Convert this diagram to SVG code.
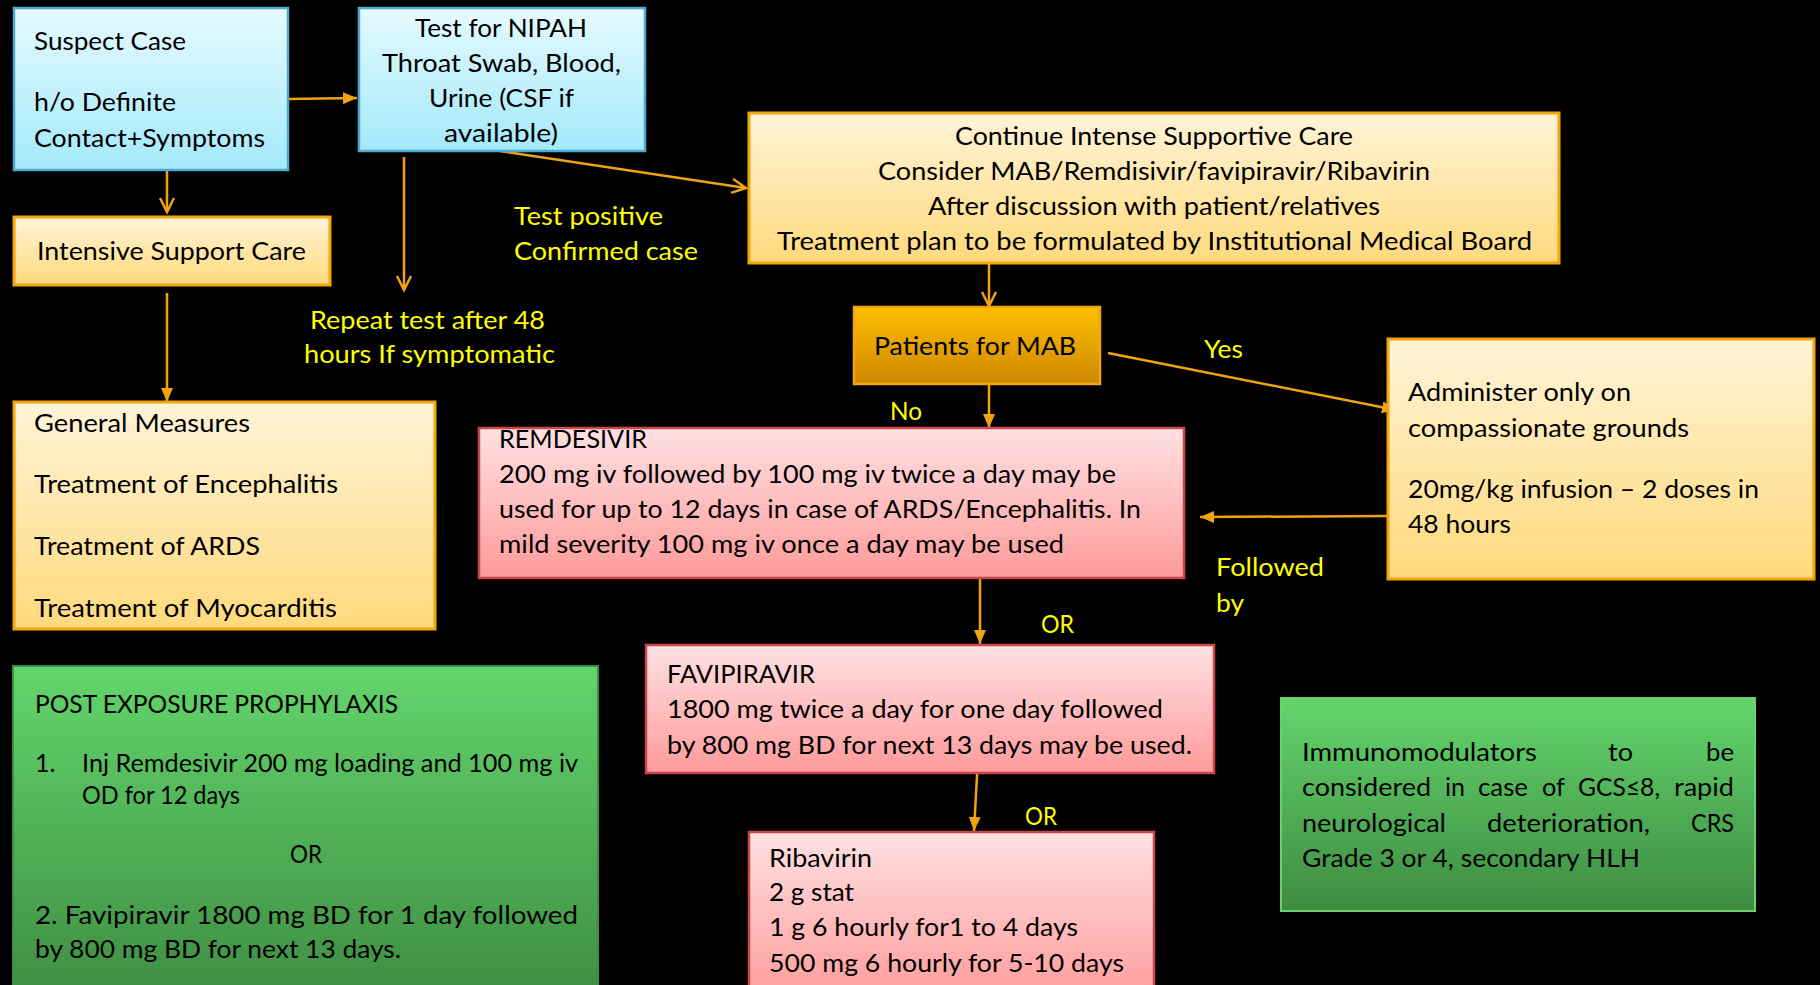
<svg xmlns="http://www.w3.org/2000/svg" width="1820" height="985" viewBox="0 0 1820 985">
<style>
text{font-family:Lato,"Liberation Sans",sans-serif;font-size:25px;fill:#000}
.y{fill:#ffff00}
.c{text-anchor:middle}
.e{text-anchor:end}
.con{stroke:#efa40e;stroke-width:2.5;fill:none}
.blue{fill:url(#gB);stroke:#4fa9cc;stroke-width:2.5}
.yel{fill:url(#gY);stroke:#f2a60c;stroke-width:3}
.mab{fill:url(#gM);stroke:#f2a60c;stroke-width:2.5}
.red{fill:url(#gR);stroke:#c9474a;stroke-width:2.5}
.grn{fill:url(#gG);stroke:#3f8f43;stroke-width:2}
.grn2{fill:url(#gG);stroke:#6ccf70;stroke-width:2}
</style>
<defs>
<linearGradient id="gB" x1="0" y1="0" x2="0" y2="1"><stop offset="0" stop-color="#e6faff"/><stop offset="1" stop-color="#a3e9fb"/></linearGradient>
<linearGradient id="gY" x1="0" y1="0" x2="0" y2="1"><stop offset="0" stop-color="#fff4d8"/><stop offset="1" stop-color="#ffd97c"/></linearGradient>
<linearGradient id="gM" x1="0" y1="0" x2="0" y2="1"><stop offset="0" stop-color="#ffc000"/><stop offset="1" stop-color="#cc8600"/></linearGradient>
<linearGradient id="gR" x1="0" y1="0" x2="0" y2="1"><stop offset="0" stop-color="#ffe1e2"/><stop offset="1" stop-color="#ff9a9a"/></linearGradient>
<linearGradient id="gG" x1="0" y1="0" x2="0" y2="1"><stop offset="0" stop-color="#63d56b"/><stop offset="1" stop-color="#3e8b42"/></linearGradient>
<marker id="af" markerUnits="userSpaceOnUse" markerWidth="16" markerHeight="14" refX="14" refY="6" orient="auto"><path d="M0,0 L14,6 L0,12 z" fill="#efa40e"/></marker>
<marker id="ao" markerUnits="userSpaceOnUse" markerWidth="18" markerHeight="18" refX="15" refY="8" orient="auto"><path d="M1,1 L15,8 L1,15" fill="none" stroke="#efa40e" stroke-width="2.5"/></marker>
</defs>
<rect width="1820" height="985" fill="#000"/>

<g id="connectors">
<line class="con" x1="288" y1="99" x2="357" y2="98" marker-end="url(#af)"/>
<line class="con" x1="167" y1="170" x2="167" y2="212" marker-end="url(#ao)"/>
<line class="con" x1="404" y1="157" x2="404" y2="290" marker-end="url(#ao)"/>
<line class="con" x1="500" y1="151" x2="746" y2="188" marker-end="url(#ao)"/>
<line class="con" x1="989" y1="263" x2="989" y2="306" marker-end="url(#ao)"/>
<line class="con" x1="167" y1="293" x2="167" y2="402" marker-end="url(#af)"/>
<line class="con" x1="1108" y1="353" x2="1396" y2="410" marker-end="url(#af)"/>
<line class="con" x1="989" y1="384" x2="989" y2="428" marker-end="url(#af)"/>
<line class="con" x1="1388" y1="516" x2="1200" y2="517" marker-end="url(#af)"/>
<line class="con" x1="980" y1="575" x2="980" y2="644" marker-end="url(#af)"/>
<line class="con" x1="978" y1="757" x2="974" y2="831" marker-end="url(#af)"/>
</g>

<g id="labels">
<text class="y" x="514" y="225" textLength="149" lengthAdjust="spacingAndGlyphs">Test positive</text>
<text class="y" x="514" y="260" textLength="184" lengthAdjust="spacingAndGlyphs">Confirmed case</text>
<text class="y" x="310" y="329" textLength="235" lengthAdjust="spacingAndGlyphs">Repeat test after 48</text>
<text class="y" x="304" y="363" textLength="251" lengthAdjust="spacingAndGlyphs">hours If symptomatic</text>
<text class="y" x="1204" y="358" textLength="39" lengthAdjust="spacingAndGlyphs">Yes</text>
<text class="y" x="890" y="420" textLength="32" lengthAdjust="spacingAndGlyphs">No</text>
<text class="y" x="1216" y="576" textLength="108" lengthAdjust="spacingAndGlyphs">Followed</text>
<text class="y" x="1216" y="612" textLength="28" lengthAdjust="spacingAndGlyphs">by</text>
<text class="y" x="1041" y="633" textLength="33" lengthAdjust="spacingAndGlyphs">OR</text>
<text class="y" x="1025" y="825" textLength="32" lengthAdjust="spacingAndGlyphs">OR</text>
</g>

<g id="suspect">
<rect class="blue" x="14" y="8" width="274" height="162"/>
<text x="34" y="50" textLength="152" lengthAdjust="spacingAndGlyphs">Suspect Case</text>
<text x="34" y="111" textLength="142" lengthAdjust="spacingAndGlyphs">h/o Definite</text>
<text x="34" y="147" textLength="231" lengthAdjust="spacingAndGlyphs">Contact+Symptoms</text>
</g>

<g id="test">
<rect class="blue" x="359" y="8" width="286" height="143"/>
<text x="415" y="37" textLength="172" lengthAdjust="spacingAndGlyphs">Test for NIPAH</text>
<text x="382" y="72" textLength="239" lengthAdjust="spacingAndGlyphs">Throat Swab, Blood,</text>
<text x="429" y="107" textLength="145" lengthAdjust="spacingAndGlyphs">Urine (CSF if</text>
<text x="444" y="142" textLength="114" lengthAdjust="spacingAndGlyphs">available)</text>
</g>

<g id="intensive">
<rect class="yel" x="14" y="217" width="316" height="68"/>
<text x="37" y="260" textLength="269" lengthAdjust="spacingAndGlyphs">Intensive Support Care</text>
</g>

<g id="continue">
<rect class="yel" x="749" y="113" width="810" height="150"/>
<text x="955" y="145" textLength="398" lengthAdjust="spacingAndGlyphs">Continue Intense Supportive Care</text>
<text x="878" y="180" textLength="552" lengthAdjust="spacingAndGlyphs">Consider MAB/Remdisivir/favipiravir/Ribavirin</text>
<text x="928" y="215" textLength="452" lengthAdjust="spacingAndGlyphs">After discussion with patient/relatives</text>
<text x="777" y="250" textLength="755" lengthAdjust="spacingAndGlyphs">Treatment plan to be formulated by Institutional Medical Board</text>
</g>

<g id="mab">
<rect class="mab" x="854" y="307" width="246" height="77"/>
<text x="874" y="355" textLength="202" lengthAdjust="spacingAndGlyphs">Patients for MAB</text>
</g>

<g id="administer">
<rect class="yel" x="1388" y="339" width="426" height="240"/>
<text x="1408" y="401" textLength="223" lengthAdjust="spacingAndGlyphs">Administer only on</text>
<text x="1408" y="437" textLength="281" lengthAdjust="spacingAndGlyphs">compassionate grounds</text>
<text x="1408" y="498" textLength="351" lengthAdjust="spacingAndGlyphs">20mg/kg infusion – 2 doses in</text>
<text x="1408" y="533" textLength="103" lengthAdjust="spacingAndGlyphs">48 hours</text>
</g>

<g id="general">
<rect class="yel" x="14" y="402" width="421" height="227"/>
<text x="34" y="432" textLength="216" lengthAdjust="spacingAndGlyphs">General Measures</text>
<text x="34" y="493" textLength="304" lengthAdjust="spacingAndGlyphs">Treatment of Encephalitis</text>
<text x="34" y="555" textLength="226" lengthAdjust="spacingAndGlyphs">Treatment of ARDS</text>
<text x="34" y="617" textLength="303" lengthAdjust="spacingAndGlyphs">Treatment of Myocarditis</text>
</g>

<g id="remdesivir">
<rect class="red" x="479" y="428" width="705" height="150"/>
<text x="499" y="448" textLength="148" lengthAdjust="spacingAndGlyphs">REMDESIVIR</text>
<text x="499" y="483" textLength="617" lengthAdjust="spacingAndGlyphs">200 mg iv followed by 100 mg iv twice a day may be</text>
<text x="499" y="518" textLength="642" lengthAdjust="spacingAndGlyphs">used for up to 12 days in case of ARDS/Encephalitis. In</text>
<text x="499" y="553" textLength="565" lengthAdjust="spacingAndGlyphs">mild severity 100 mg iv once a day may be used</text>
</g>

<g id="favipiravir">
<rect class="red" x="646" y="645" width="568" height="128"/>
<text x="667" y="683" textLength="148" lengthAdjust="spacingAndGlyphs">FAVIPIRAVIR</text>
<text x="667" y="718" textLength="496" lengthAdjust="spacingAndGlyphs">1800 mg twice a day for one day followed</text>
<text x="667" y="754" textLength="525" lengthAdjust="spacingAndGlyphs">by 800 mg BD for next 13 days may be used.</text>
</g>

<g id="ribavirin">
<rect class="red" x="749" y="832" width="405" height="170"/>
<text x="769" y="867" textLength="103" lengthAdjust="spacingAndGlyphs">Ribavirin</text>
<text x="769" y="901" textLength="85" lengthAdjust="spacingAndGlyphs">2 g stat</text>
<text x="769" y="936" textLength="309" lengthAdjust="spacingAndGlyphs">1 g 6 hourly for1 to 4 days</text>
<text x="769" y="972" textLength="355" lengthAdjust="spacingAndGlyphs">500 mg 6 hourly for 5-10 days</text>
</g>

<g id="pep">
<rect class="grn" x="13" y="666" width="585" height="340"/>
<text x="35" y="713" textLength="363" lengthAdjust="spacingAndGlyphs">POST EXPOSURE PROPHYLAXIS</text>
<text x="35" y="772" font-size="23">1.</text>
<text x="82" y="772" font-size="23" textLength="496" lengthAdjust="spacingAndGlyphs">Inj Remdesivir 200 mg loading and  100 mg iv</text>
<text x="82" y="804" font-size="23" textLength="158" lengthAdjust="spacingAndGlyphs">OD for 12 days</text>
<text x="290" y="863" font-size="23" textLength="32" lengthAdjust="spacingAndGlyphs">OR</text>
<text x="35" y="924" textLength="543" lengthAdjust="spacingAndGlyphs">2. Favipiravir 1800 mg BD for 1 day followed</text>
<text x="35" y="958" textLength="366" lengthAdjust="spacingAndGlyphs">by 800 mg BD for next 13 days.</text>
</g>

<g id="immuno">
<rect class="grn2" x="1281" y="698" width="474" height="213"/>
<text x="1302" y="761" textLength="235" lengthAdjust="spacingAndGlyphs">Immunomodulators</text>
<text x="1608" y="761" textLength="25" lengthAdjust="spacingAndGlyphs">to</text>
<text x="1706" y="761" textLength="28" lengthAdjust="spacingAndGlyphs">be</text>
<text x="1302" y="796" textLength="129" lengthAdjust="spacingAndGlyphs">considered</text>
<text x="1445" y="796" textLength="20" lengthAdjust="spacingAndGlyphs">in</text>
<text x="1478" y="796" textLength="50" lengthAdjust="spacingAndGlyphs">case</text>
<text x="1542" y="796" textLength="23" lengthAdjust="spacingAndGlyphs">of</text>
<text x="1578" y="796" textLength="82" lengthAdjust="spacingAndGlyphs">GCS≤8,</text>
<text x="1674" y="796" textLength="60" lengthAdjust="spacingAndGlyphs">rapid</text>
<text x="1302" y="832" textLength="144" lengthAdjust="spacingAndGlyphs">neurological</text>
<text x="1487" y="832" textLength="163" lengthAdjust="spacingAndGlyphs">deterioration,</text>
<text x="1691" y="832" textLength="43" lengthAdjust="spacingAndGlyphs">CRS</text>
<text x="1302" y="867" textLength="338" lengthAdjust="spacingAndGlyphs">Grade 3 or 4, secondary HLH</text>
</g>
</svg>
